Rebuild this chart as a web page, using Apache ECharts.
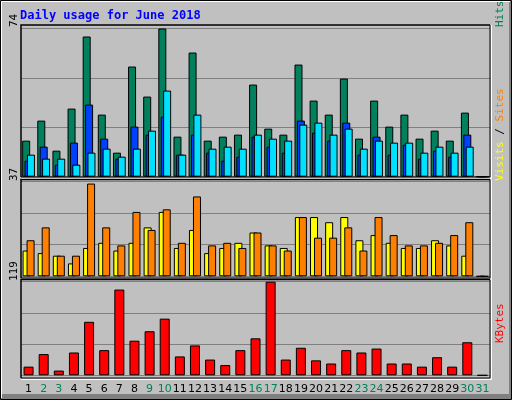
<!DOCTYPE html>
<html><head><meta charset="utf-8">
<script src="https://cdn.jsdelivr.net/npm/echarts@6/dist/echarts.min.js"></script>
<style>html,body{margin:0;padding:0;background:#c0c0c0}#c{width:512px;height:400px}</style>
</head><body><div id="c"></div>
<script>
const days = Array.from({length:31},(_,i)=>String(i+1));
const weekend = ['2','3','9','10','16','17','23','24','30','31'];
const hits  = [18,28,13,34,70,31,12,55,40,74,20,62,18,20,21,46,24,21,56,38,31,49,19,38,25,31,19,23,18,32,0];
const files = [8,15,6,17,36,19,9,25,21,30,11,21,12,8,10,20,15,12,28,22,18,27,11,20,11,16,9,13,10,21,0];
const pages = [11,9,9,6,12,14,10,14,23,43,11,31,14,15,14,21,19,18,26,27,21,24,14,18,17,17,12,15,12,15,0];
const visits= [10,9,8,5,11,13,10,13,19,25,11,18,9,11,13,17,12,11,23,23,21,23,14,16,13,11,11,14,12,8,0];
const sites = [14,19,8,8,36,19,12,25,18,26,13,31,12,13,11,17,12,10,23,15,15,19,10,23,16,12,12,13,16,21,0];
const kbytes= [11,27,6,29,68,32,109,44,56,72,24,38,20,13,32,47,119,20,35,19,15,32,29,34,15,15,11,23,11,42,0];
const maxLabels = [74,37,119];
const title = 'Daily usage for June 2018';

const grids=[{left:21,width:469,top:28.5,height:148.2},{left:21,width:469,top:181,height:95.3},{left:21,width:469,top:281.7,height:93.6}];
const mono='"DejaVu Sans Mono", monospace';
function xa(i){return {type:'category',gridIndex:i,data:days,axisLine:{show:false},axisTick:{show:false},
 axisLabel:{show:i===2,margin:8,fontFamily:'"DejaVu Sans", sans-serif',fontSize:11,interval:0,
 formatter:v=>weekend.includes(v)?'{w|'+v+'}':'{n|'+v+'}',rich:{w:{color:'#00805c',fontSize:11},n:{color:'#000',fontSize:11}}}};}
function ya(i,m){return {type:'value',gridIndex:i,min:0,max:m,interval:m/3,axisLabel:{show:false},axisLine:{show:false},axisTick:{show:false},
 splitLine:{show:true,lineStyle:{color:'#808080',width:1}}};}
const bs=(name,data,color,xi,w,gap)=>({name,type:'bar',xAxisIndex:xi,yAxisIndex:xi,data,barWidth:w,barGap:gap,
 itemStyle:{color,borderColor:'#000',borderWidth:1},animation:false});
const frame=(y1,y2)=>[
 {type:'polyline',shape:{points:[[21,y2],[21,y1],[490,y1]]},style:{stroke:'#000',lineWidth:1.5,fill:null},z:10},
 {type:'polyline',shape:{points:[[21,y2],[490,y2],[490,y1]]},style:{stroke:'#000',lineWidth:1,fill:null},z:10},
 {type:'polyline',shape:{points:[[21,y2+1.5],[491.5,y2+1.5],[491.5,y1]]},style:{stroke:'#fff',lineWidth:1,fill:null},z:10}];
const vtext=(x,y,rich,text)=>({type:'text',x,y,rotation:Math.PI/2,z:10,
 style:{text,rich,font:'11px '+mono,fill:'#000',align:'left',verticalAlign:'middle'}});
const chart=echarts.init(document.getElementById('c'));
chart.setOption({
 backgroundColor:'#c0c0c0',animation:false,
 grid:grids,
 xAxis:[xa(0),xa(1),xa(2)],
 yAxis:[ya(0,maxLabels[0]),ya(1,maxLabels[1]),ya(2,maxLabels[2])],
 series:[
  bs('Hits',hits,'#00805c',0,8,'-70%'),bs('Files',files,'#0040ff',0,8,'-70%'),bs('Pages',pages,'#00e0ff',0,8,'-70%'),
  bs('Visits',visits,'#ffff00',1,8,'-50%'),bs('Sites',sites,'#ff8000',1,8,'-50%'),
  bs('KBytes',kbytes,'#ff0000',2,10,'0%')
 ],
 graphic:[
  {type:'rect',shape:{x:0.5,y:0.5,width:511,height:399},style:{fill:null,stroke:'#000',lineWidth:1},z:9},
  {type:'polyline',shape:{points:[[1.5,398],[1.5,1.5],[510,1.5]]},style:{fill:null,stroke:'#fff',lineWidth:1},z:9},
  {type:'rect',shape:{x:1,y:394,width:510,height:5},style:{fill:'#808080'},z:8},
  {type:'rect',shape:{x:509,y:1,width:2,height:398},style:{fill:'#808080'},z:8},
  {type:'text',x:20,y:16,z:10,style:{text:title,font:'bold 12px '+mono,fill:'#0000ff',verticalAlign:'middle'}},
  ...frame(25,177),...frame(179.5,278),...frame(279.5,378),
  vtext(14,27,{},String(maxLabels[0])),
  vtext(14,181,{},String(maxLabels[1])),
  vtext(14,281,{},String(maxLabels[2])),
  vtext(500,27,{p:{fill:'#00c0ff',font:'11px '+mono},f:{fill:'#0040ff',font:'11px '+mono},h:{fill:'#00805c',font:'11px '+mono},s:{fill:'#000',font:'11px '+mono}},'{h|Hits}{s| / }{f|Files}{s| / }{p|Pages}'),
  vtext(500,181,{v:{fill:'#ffff00',font:'11px '+mono},t:{fill:'#ff8000',font:'11px '+mono},s:{fill:'#000',font:'11px '+mono}},'{v|Visits}{s| / }{t|Sites}'),
  vtext(500,343,{k:{fill:'#ff0000',font:'11px '+mono}},'{k|KBytes}')
 ]
});
</script></body></html>
